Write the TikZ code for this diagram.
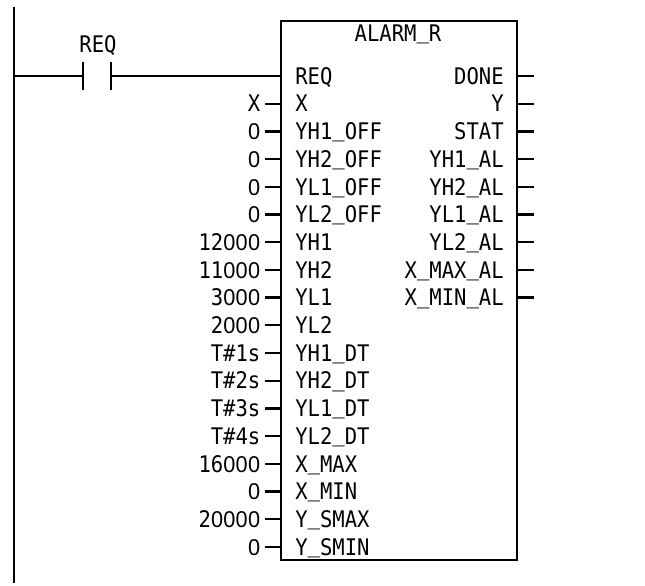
\documentclass[tikz,border=0pt]{standalone}
\usepackage{fontspec}
\setmainfont[FakeStretch=0.9]{DejaVu Sans Mono}
\newfontfamily\plainfont[FakeStretch=0.95]{Liberation Sans}
\newcommand{\nought}{\makebox[7.02pt]{\plainfont 0}}
\newcommand{\usc}{\raisebox{1.6pt}{\_}}
\usetikzlibrary{calc,positioning}

\begin{document}
\begin{tikzpicture}[
    x=0.02cm, y=0.02cm,
    font=\fontsize{13}{14}\selectfont,
    blockBox/.style={draw, line width=1.45pt, minimum width=47.2mm, minimum height=107.8mm, inner sep=0pt},
    pinText/.style={inner xsep=0pt, inner ysep=0pt, text height=9.4pt, text depth=0pt},
    valText/.style={pinText, anchor=east, inner xsep=2.5pt},
    pinLine/.style={line width=1.3pt},
    wire/.style={line width=0.75pt},
    rail/.style={line width=1.1pt},
  ]
\useasboundingbox (0,0) rectangle (645,585);

% ---- power rail and contact --------------------------------------------
\coordinate (railTop) at (14,578);
\coordinate (railBottom) at (14,2);
\draw[rail] (railTop) -- (railBottom);
\coordinate (contactL) at (83,509);
\coordinate (contactR) at (111,509);
\draw[wire] (contactL) -- (railTop |- contactL);
\draw[wire] ($(contactL)+(0,14)$) -- ($(contactL)+(0,-14)$);
\draw[wire] ($(contactR)+(0,14)$) -- ($(contactR)+(0,-14)$);
\node[pinText] (reqLabel) at (98,541) {REQ};

% ---- function block ----------------------------------------------------
\node[blockBox] (fb) at (399,294.5) {};
\node[pinText] (fbTitle) at (398,552) {ALARM\usc R};
\node[pinText, anchor=west] (inReq) at (295,509) {REQ};
\draw[wire] (contactR) -- (contactR -| fb.west);

% ---- inputs ------------------------------------------------------------
\foreach \val/\pin [count=\i from 0] in {X/X, \nought/YH1\usc OFF, \nought/YH2\usc OFF, \nought/YL1\usc OFF, \nought/YL2\usc OFF,
    12\nought\nought\nought/YH1, 11\nought\nought\nought/YH2, 3\nought\nought\nought/YL1, 2\nought\nought\nought/YL2,
    T\#1s/YH1\usc DT, T\#2s/YH2\usc DT, T\#3s/YL1\usc DT, T\#4s/YL2\usc DT,
    16\nought\nought\nought/X\usc MAX, \nought/X\usc MIN, 2\nought\nought\nought\nought/Y\usc SMAX, \nought/Y\usc SMIN} {
  \pgfmathsetmacro{\ypin}{481.3-27.7*\i}
  \node[valText] (val\i) at (265,\ypin) {\val};
  \node[pinText, anchor=west] (in\i) at (295,\ypin) {\pin};
  \draw[pinLine] (val\i.east) -- (val\i.east -| fb.west);
}

% ---- outputs -----------------------------------------------------------
\foreach \pin [count=\i from 0] in {DONE, Y, STAT, YH1\usc AL, YH2\usc AL, YL1\usc AL, YL2\usc AL, X\usc MAX\usc AL, X\usc MIN\usc AL} {
  \pgfmathsetmacro{\ypin}{509-27.7*\i}
  \node[pinText, anchor=east] (out\i) at (504,\ypin) {\pin};
  \coordinate (end\i) at (534,\ypin);
  \draw[pinLine] (end\i -| fb.east) -- (end\i);
}

\end{tikzpicture}
\end{document}
